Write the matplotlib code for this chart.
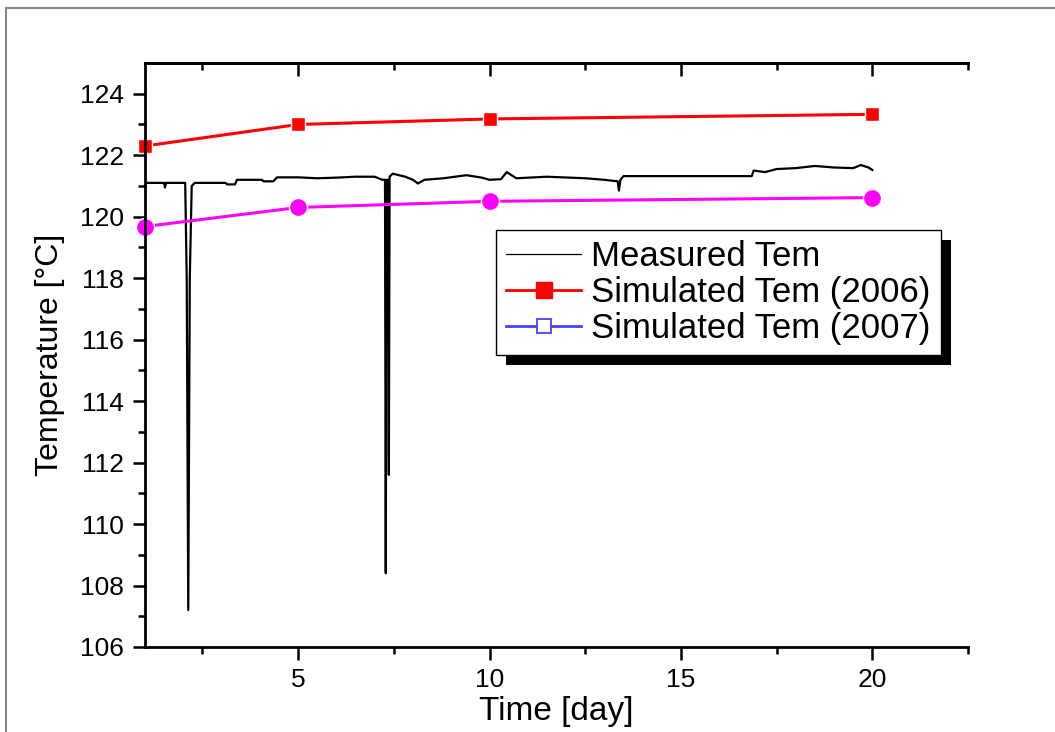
import matplotlib
matplotlib.use("Agg")
import matplotlib.pyplot as plt
from matplotlib.patches import Rectangle
from matplotlib.lines import Line2D
import matplotlib.patheffects as pe

plt.rcParams['font.family'] = ['Liberation Sans', 'DejaVu Sans']

# Simulated values
sim_days = [1, 5, 10, 20]
sim_2006 = [122.3, 123.0, 123.18, 123.33]
sim_2007 = [119.68, 120.3, 120.5, 120.62]

# Measured temperature (key points)
meas_days = [1.0, 1.5, 1.52, 1.55, 2.05, 2.09, 2.13, 2.17, 2.22, 2.3, 3.1, 3.15,
             3.35, 3.4, 4.05, 4.1, 4.35, 4.45, 5.0, 5.5, 6.0, 6.5, 7.0, 7.2,
             7.27, 7.29, 7.31, 7.35, 7.37, 7.39, 7.47, 7.8, 8.0, 8.13, 8.3, 8.8,
             9.4, 9.8, 10.0, 10.3, 10.45, 10.7, 11.5, 12.5, 13.0, 13.35, 13.38,
             13.42, 13.5, 16.85, 16.9, 17.2, 17.5, 18.0, 18.5, 19.0, 19.5, 19.7,
             19.9, 20.0]
meas_temp = [121.1, 121.1, 120.95, 121.1, 121.1, 118.0, 107.2, 118.0, 121.0, 121.1, 121.1, 121.05,
             121.05, 121.2, 121.2, 121.15, 121.15, 121.28, 121.28, 121.25, 121.27, 121.3, 121.3, 121.2,
             121.2, 108.4, 121.2, 121.2, 111.6, 121.3, 121.4, 121.3, 121.2, 121.08, 121.2, 121.25,
             121.35, 121.27, 121.2, 121.22, 121.45, 121.25, 121.3, 121.25, 121.2, 121.15, 120.85,
             121.2, 121.32, 121.32, 121.5, 121.45, 121.55, 121.58, 121.65, 121.6, 121.58, 121.68,
             121.6, 121.52]

xlim = (1, 22.5)
ylim = (106, 125)

fig = plt.figure(figsize=(10.55, 7.32), dpi=100)
fig.patches.append(Rectangle((6/1055, -0.1), 1.2, 1 - 8/732 + 0.1, transform=fig.transFigure,
                             fill=False, edgecolor='#888888', linewidth=1.5))

ax = fig.add_axes([145/1055, 1 - 647/732, (968 - 145)/1055, (647 - 63)/732])

ax.plot(meas_days, meas_temp, color='black', linewidth=1.6, label='Measured Tem')
ax.plot(sim_days, sim_2006, color='red', linewidth=2.2, marker='s', markersize=10,
        markeredgecolor='white', markeredgewidth=1.0, clip_on=False)
ax.plot(sim_days, sim_2007, color='#ff00ff', linewidth=2.2, marker='o', markersize=13,
        markeredgecolor='white', markeredgewidth=1.0, clip_on=False)

ax.set_xlim(*xlim)
ax.set_ylim(*ylim)

ax.set_xticks([5, 10, 15, 20])
ax.set_xticks([2.5, 7.5, 12.5, 17.5, 22.5], minor=True)
ax.set_yticks(range(106, 125, 2))
ax.set_yticks(range(107, 125, 2), minor=True)

ax.tick_params(axis='both', which='major', direction='out', length=9, width=1.8)
ax.tick_params(axis='both', which='minor', direction='out', length=5, width=1.8)
ax.tick_params(axis='x', which='major', labelsize=19, pad=6)
ax.tick_params(axis='y', which='major', labelsize=19, pad=6)

for s in ['left', 'bottom', 'top']:
    ax.spines[s].set_linewidth(2)
ax.spines['right'].set_visible(False)

sec = ax.secondary_xaxis('top')
sec.set_xticks([5, 10, 15, 20])
sec.set_xticks([2.5, 7.5, 12.5, 17.5, 22.5], minor=True)
sec.tick_params(axis='x', which='major', direction='in', length=9, width=1.8, labeltop=False)
sec.tick_params(axis='x', which='minor', direction='in', length=5, width=1.8)
sec.spines['top'].set_linewidth(2)

ax.set_xlabel('Time [day]', fontsize=24, labelpad=3)
ax.set_ylabel('Temperature [°C]', fontsize=23, labelpad=11)

# Legend (drawn as in the original, including its marker styles)
handles = [
    Line2D([], [], color='black', linewidth=0.9),
    Line2D([], [], color='red', linewidth=2, marker='s', markersize=11),
    Line2D([], [], color='#4444ff', linewidth=2, marker='s', markersize=10,
           markerfacecolor='white', markeredgecolor='#4444ff', markeredgewidth=1.3),
]
labels = ['Measured Tem', 'Simulated Tem (2006)', 'Simulated Tem (2007)']
leg = ax.legend(handles, labels, loc='upper left',
                bbox_to_anchor=((496 - 145) / 823, 1 - (230 - 63) / 584),
                fontsize=25, frameon=True, fancybox=False, shadow=False,
                framealpha=1.0,
                handlelength=2.15, handletextpad=0.3, borderpad=0.3,
                labelspacing=0.08, borderaxespad=0)
frame = leg.get_frame()
frame.set_edgecolor('black')
frame.set_facecolor('white')
frame.set_linewidth(1.0)
frame.set_path_effects([pe.SimplePatchShadow(offset=(7.2, -7.2), shadow_rgbFace='black', alpha=1.0),
                        pe.Normal()])

fig.savefig('out.png', dpi=100)
